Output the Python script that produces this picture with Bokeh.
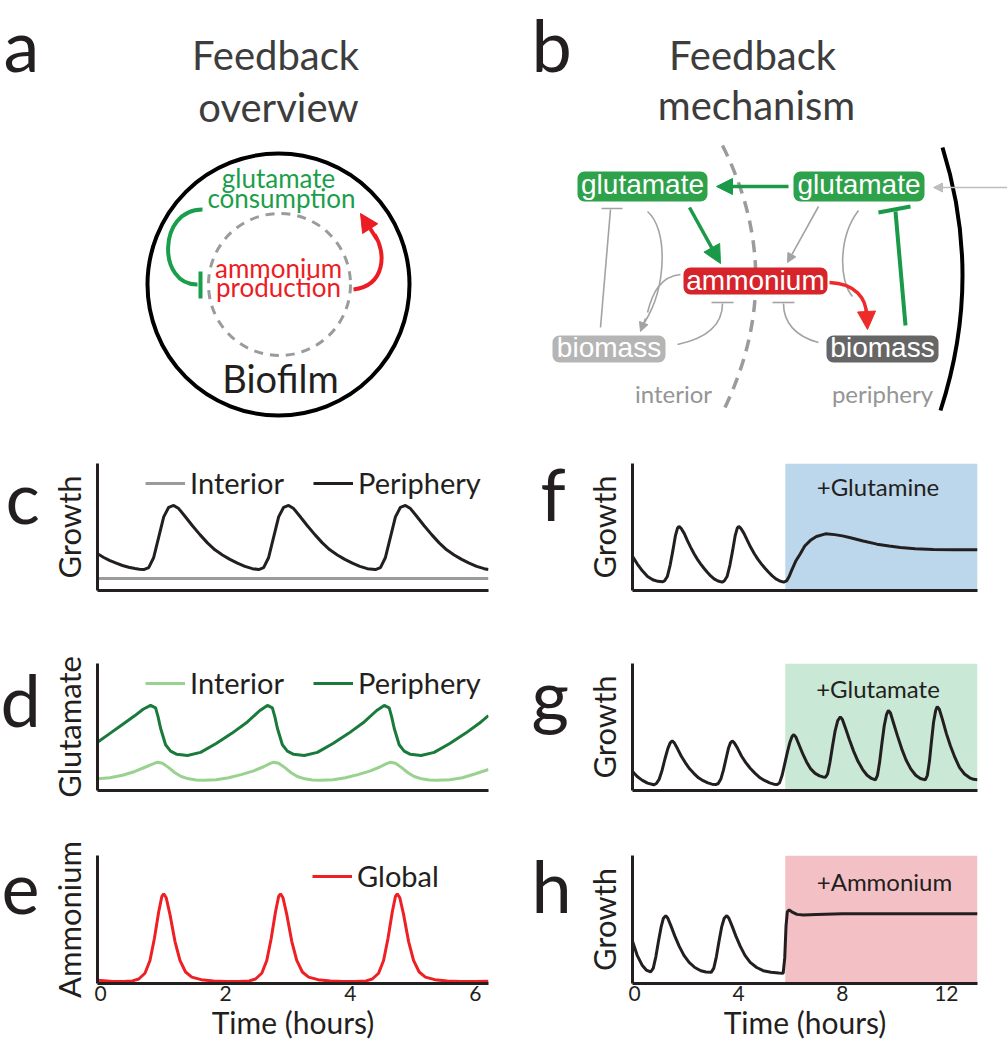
from bokeh.plotting import figure
from bokeh.layouts import column, row
from bokeh.models import Range1d, FixedTicker, Legend, LegendItem, Arrow, NormalHead
from bokeh.core.properties import value
from bokeh.embed import file_html
from bokeh.resources import INLINE

# ---------------------------------------------------------------- data
left_ticks = [0, 2, 4, 6]
right_ticks = [0, 4, 8, 12]

# panel c : growth
c_time = [-0.05, 0.05, 0.15, 0.25, 0.35, 0.45, 0.55, 0.62,
          0.69, 0.77, 0.85, 0.93, 1.01, 1.09, 1.17, 1.25, 1.35, 1.47, 1.59, 1.71, 1.83, 1.95, 2.07, 2.19, 2.31, 2.43,
          2.53, 2.61, 2.69, 2.77, 2.85, 2.93, 3.01, 3.09, 3.19, 3.31, 3.43, 3.55, 3.67, 3.79, 3.91, 4.03, 4.15, 4.27,
          4.40, 4.48, 4.56, 4.64, 4.72, 4.80, 4.88, 4.96, 5.06, 5.18, 5.30, 5.42, 5.54, 5.66, 5.78, 5.90, 6.02, 6.14,
          6.21]
c_periphery = [0.29, 0.26, 0.235, 0.215, 0.197, 0.183, 0.173, 0.168,
               0.165, 0.18, 0.26, 0.42, 0.58, 0.655, 0.67, 0.645, 0.585, 0.51, 0.44, 0.375, 0.32, 0.28, 0.245, 0.215, 0.19, 0.172,
               0.165, 0.18, 0.26, 0.42, 0.58, 0.655, 0.67, 0.645, 0.585, 0.51, 0.44, 0.375, 0.32, 0.28, 0.245, 0.215, 0.19, 0.172,
               0.165, 0.18, 0.26, 0.42, 0.58, 0.655, 0.67, 0.645, 0.585, 0.51, 0.44, 0.375, 0.32, 0.28, 0.245, 0.215, 0.19, 0.172,
               0.165]
c_interior_time = [-0.05, 6.21]
c_interior = [0.095, 0.095]

# panel d : glutamate
d_periphery_time = [-0.05, 0.15, 0.35, 0.55, 0.68, 0.80, 0.88, 0.92, 0.96, 1.04, 1.12, 1.22, 1.39, 1.60, 1.85,
                    2.10, 2.35, 2.55, 2.67, 2.75, 2.79, 2.83, 2.91, 2.99, 3.09, 3.26, 3.47, 3.72, 3.97, 4.22,
                    4.42, 4.54, 4.62, 4.66, 4.70, 4.78, 4.86, 4.96, 5.13, 5.34, 5.59, 5.84, 6.09, 6.21]
d_periphery = [0.38, 0.45, 0.52, 0.59, 0.64, 0.67, 0.65, 0.58, 0.49, 0.36, 0.31, 0.285, 0.276, 0.30, 0.37,
               0.45, 0.54, 0.63, 0.67, 0.65, 0.58, 0.49, 0.36, 0.31, 0.285, 0.276, 0.30, 0.37, 0.45, 0.54,
               0.63, 0.67, 0.65, 0.58, 0.49, 0.36, 0.31, 0.285, 0.276, 0.30, 0.37, 0.45, 0.54, 0.59]
d_interior_time = [-0.05, 0.15, 0.35, 0.55, 0.72, 0.84, 0.91, 0.99, 1.09, 1.19, 1.29, 1.41, 1.53, 1.65,
                   1.85, 2.05, 2.25, 2.45, 2.60, 2.70, 2.77, 2.85, 2.95, 3.05, 3.15, 3.27, 3.39, 3.52,
                   3.72, 3.92, 4.12, 4.32, 4.47, 4.57, 4.64, 4.72, 4.82, 4.92, 5.02, 5.14, 5.26, 5.39,
                   5.59, 5.79, 5.99, 6.21]
d_interior = [0.092, 0.10, 0.12, 0.15, 0.185, 0.21, 0.223, 0.215, 0.18, 0.14, 0.11, 0.092, 0.083, 0.080,
              0.085, 0.10, 0.125, 0.155, 0.185, 0.21, 0.223, 0.215, 0.18, 0.14, 0.11, 0.092, 0.083, 0.080,
              0.085, 0.10, 0.125, 0.155, 0.185, 0.21, 0.223, 0.215, 0.18, 0.14, 0.11, 0.092, 0.083, 0.080,
              0.085, 0.10, 0.13, 0.165]

# panel e : ammonium
e_time = [-0.05, 0.20, 0.40, 0.51, 0.61, 0.71, 0.79, 0.86, 0.93, 0.98, 1.01, 1.05, 1.11, 1.19, 1.27, 1.36, 1.46, 1.61, 1.81, 2.01,
          2.21, 2.38, 2.48, 2.58, 2.66, 2.73, 2.80, 2.85, 2.88, 2.92, 2.98, 3.06, 3.14, 3.23, 3.33, 3.48, 3.68, 3.88,
          4.08, 4.25, 4.35, 4.45, 4.53, 4.60, 4.67, 4.72, 4.75, 4.79, 4.85, 4.93, 5.01, 5.10, 5.20, 5.35, 5.55, 5.75,
          6.00, 6.21]
e_global = [0.025, 0.015, 0.017, 0.02, 0.035, 0.08, 0.18, 0.35, 0.56, 0.68, 0.70, 0.67, 0.54, 0.33, 0.18, 0.09, 0.05, 0.03, 0.02, 0.015,
            0.015, 0.02, 0.035, 0.08, 0.18, 0.35, 0.56, 0.68, 0.70, 0.67, 0.54, 0.33, 0.18, 0.09, 0.05, 0.03, 0.02, 0.015,
            0.015, 0.02, 0.035, 0.08, 0.18, 0.35, 0.56, 0.68, 0.70, 0.67, 0.54, 0.33, 0.18, 0.09, 0.05, 0.03, 0.02, 0.015,
            0.015, 0.017]

# panel f : growth, +glutamine
f_time = [-0.08, 0.10, 0.30, 0.50, 0.70, 0.90, 1.07,
          1.15, 1.26, 1.37, 1.47, 1.57, 1.65, 1.71, 1.79, 1.91, 2.03, 2.16, 2.29, 2.42, 2.54, 2.67, 2.80, 2.93, 3.06, 3.21, 3.37,
          3.45, 3.56, 3.67, 3.77, 3.87, 3.95, 4.01, 4.09, 4.21, 4.34, 4.47, 4.61, 4.75, 4.88, 5.02, 5.16, 5.30, 5.44, 5.59, 5.74,
          5.85, 5.95, 6.05, 6.20, 6.38, 6.55, 6.77, 7.00, 7.35, 7.70, 8.00, 8.31, 8.80, 9.33, 9.80, 10.23, 10.80, 11.50, 12.30, 13.20]
f_growth = [0.27, 0.21, 0.155, 0.11, 0.085, 0.072, 0.068,
            0.075, 0.11, 0.20, 0.31, 0.43, 0.49, 0.505, 0.49, 0.45, 0.394, 0.34, 0.289, 0.245, 0.21, 0.175, 0.144, 0.115, 0.092, 0.075, 0.066,
            0.075, 0.11, 0.20, 0.31, 0.43, 0.49, 0.505, 0.49, 0.45, 0.394, 0.34, 0.289, 0.245, 0.21, 0.175, 0.144, 0.115, 0.092, 0.075, 0.066,
            0.075, 0.11, 0.16, 0.23, 0.29, 0.35, 0.395, 0.425, 0.446, 0.44, 0.43, 0.415, 0.39, 0.365, 0.35, 0.338, 0.328, 0.322, 0.32, 0.32]

# panel g : growth, +glutamate
g_time = [-0.08, 0.10, 0.30, 0.50, 0.74,
          0.84, 0.95, 1.06, 1.17, 1.28, 1.37, 1.45, 1.53, 1.65, 1.80, 1.95, 2.10, 2.28, 2.46, 2.64, 2.82, 2.98, 3.12,
          3.22, 3.32, 3.42, 3.52, 3.61, 3.69, 3.76, 3.84, 3.97, 4.12, 4.28, 4.45, 4.64, 4.83, 5.02, 5.20, 5.36, 5.49,
          5.58, 5.68, 5.78, 5.88, 5.98, 6.06, 6.13, 6.21, 6.33, 6.47, 6.62, 6.78, 6.95, 7.12, 7.25, 7.35,
          7.43, 7.52, 7.62, 7.72, 7.82, 7.92, 8.00, 8.12, 8.27, 8.43, 8.60, 8.78, 8.95, 9.12, 9.27,
          9.35, 9.43, 9.52, 9.61, 9.70, 9.77, 9.85, 9.97, 10.12, 10.28, 10.45, 10.63, 10.82, 11.00, 11.19,
          11.27, 11.35, 11.43, 11.51, 11.59, 11.65, 11.73, 11.85, 12.00, 12.16, 12.33, 12.51, 12.70, 12.90, 13.05, 13.20]
g_growth = [0.15, 0.11, 0.08, 0.058, 0.045,
            0.055, 0.09, 0.16, 0.25, 0.33, 0.375, 0.39, 0.375, 0.33, 0.27, 0.22, 0.175, 0.135, 0.10, 0.077, 0.06, 0.05, 0.047,
            0.055, 0.09, 0.16, 0.25, 0.33, 0.375, 0.39, 0.375, 0.33, 0.27, 0.22, 0.175, 0.135, 0.10, 0.077, 0.06, 0.05, 0.047,
            0.06, 0.12, 0.21, 0.30, 0.38, 0.425, 0.44, 0.42, 0.36, 0.29, 0.225, 0.17, 0.135, 0.115, 0.107, 0.105,
            0.13, 0.22, 0.35, 0.47, 0.55, 0.58, 0.56, 0.49, 0.40, 0.31, 0.23, 0.165, 0.12, 0.095, 0.084,
            0.12, 0.22, 0.37, 0.51, 0.60, 0.63, 0.61, 0.53, 0.43, 0.33, 0.24, 0.17, 0.12, 0.095, 0.084,
            0.12, 0.23, 0.39, 0.54, 0.63, 0.66, 0.64, 0.56, 0.45, 0.35, 0.26, 0.18, 0.13, 0.10, 0.088, 0.085]

# panel h : growth, +ammonium
h_time = [-0.08, 0.10, 0.30, 0.45, 0.62,
          0.72, 0.82, 0.92, 1.02, 1.11, 1.20, 1.28, 1.40, 1.55, 1.72, 1.90, 2.10, 2.32, 2.55, 2.75, 2.95,
          3.05, 3.15, 3.25, 3.35, 3.45, 3.55, 3.63, 3.75, 3.90, 4.07, 4.25, 4.45, 4.70, 4.95, 5.25, 5.55, 5.72,
          5.78, 5.83, 5.88, 5.95, 6.05, 6.25, 6.50, 7.00, 8.00, 9.00, 10.00, 11.00, 12.00, 13.20]
h_growth = [0.33, 0.22, 0.14, 0.105, 0.09,
            0.12, 0.21, 0.33, 0.44, 0.51, 0.53, 0.51, 0.45, 0.37, 0.29, 0.22, 0.165, 0.125, 0.10, 0.09, 0.087,
            0.12, 0.21, 0.33, 0.44, 0.51, 0.53, 0.51, 0.45, 0.37, 0.29, 0.22, 0.165, 0.125, 0.10, 0.088, 0.082, 0.08,
            0.20, 0.45, 0.56, 0.575, 0.56, 0.54, 0.535, 0.54, 0.545, 0.545, 0.545, 0.545, 0.545, 0.545]

treatment_start = [5.8]
treatment_end = [13.2]
treatment_labels = ["+Glutamine", "+Glutamate", "+Ammonium"]

# ---------------------------------------------------------------- style
FONT = "Lato"
BOXFONT = "Liberation Sans"
BLACK = "#231f20"
TITLE = "#3d3d3d"
GREEN_TXT = "#1b9e4b"
RED_TXT = "#ec1c24"
GREEN_BOX = "#2ea14b"
RED_BOX = "#d7242b"
GRAY_LINE = "#a3a3a3"
GRAY_INT = "#9b9b9b"
GREEN_LIGHT = "#99d18f"
GREEN_DARK = "#1a7a3c"
RED_LINE = "#ee2024"
SHADES = ["#bcd7ec", "#c9e8d5", "#f3c1c5"]
SHIFT = 0.38      # baseline correction (fraction of font size) for text glyphs
LETTER = 72
TOP_H = 430


def add_text(fig, x, y, s, size, color, font=FONT, align="center", shift=SHIFT):
    # y is the wanted baseline in a top-down pixel frame
    fig.text(x=[x], y=[y - shift * size], text=[s], text_font=value(font), text_font_size=f"{size}px",
             text_color=color, text_align=align, text_baseline="alphabetic")


def add_arrow(fig, x0, y0, x1, y1, color, width, size):
    fig.add_layout(Arrow(end=NormalHead(size=size, fill_color=color, line_color=color, line_width=1),
                         x_start=x0, y_start=y0, x_end=x1, y_end=y1,
                         line_color=color, line_width=width))


def blank_fig(w, h):
    f = figure(width=w, height=h, x_range=Range1d(0, w), y_range=Range1d(h, 0),
               x_axis_type=None, y_axis_type=None, output_backend="svg",
               toolbar_location=None, min_border=0)
    f.outline_line_color = None
    return f


# ---------------------------------------------------------------- top diagrams (a, b)
top = blank_fig(1007, TOP_H)

add_text(top, 3, 71, "a", LETTER, BLACK, align="left")
add_text(top, 531, 71, "b", LETTER, BLACK, align="left")
add_text(top, 275, 70, "Feedback", 40, TITLE)
add_text(top, 278, 122, "overview", 40, TITLE)
add_text(top, 752, 70, "Feedback", 40, TITLE)
add_text(top, 756, 120, "mechanism", 40, TITLE)

# panel a
top.circle(x=[278], y=[284], radius=131, fill_color=None, line_color="black", line_width=4)
top.circle(x=[279], y=[284], radius=71, fill_color=None, line_color="#9b9b9b", line_width=3, line_dash="9 7")
add_text(top, 278, 187, "glutamate", 26, GREEN_TXT)
add_text(top, 281, 207, "consumption", 26, GREEN_TXT)
add_text(top, 278, 277, "ammonium", 26, RED_TXT)
add_text(top, 278, 296, "production", 26, RED_TXT)
add_text(top, 280, 392, "Biofilm", 38, BLACK)
top.bezier(x0=[202], y0=[209], x1=[197], y1=[284], cx0=[157], cy0=[209], cx1=[157], cy1=[285],
           line_color=GREEN_TXT, line_width=4)
top.segment(x0=[200], y0=[271], x1=[200], y1=[298], line_color=GREEN_TXT, line_width=4)
top.bezier(x0=[353], y0=[289], x1=[374], y1=[234], cx0=[385], cy0=[285], cx1=[386], cy1=[252],
           line_color=RED_TXT, line_width=4)
add_arrow(top, 376, 238, 360, 213, RED_TXT, 4, 18)

# panel b
top.quadratic(x0=[722], y0=[145], x1=[723], y1=[410], cx=[788], cy=[277],
              line_color="#9b9b9b", line_width=3.5, line_dash="12 8")
top.quadratic(x0=[942], y0=[147], x1=[940], y1=[410], cx=[983], cy=[278],
              line_color="black", line_width=4)
top.segment(x0=[600, 601, 711, 772], y0=[327, 208, 302, 302], x1=[610, 622, 733, 794], y1=[209, 208, 302, 302],
            line_color=GRAY_LINE, line_width=1.6)
top.bezier(x0=[647, 680, 677, 818, 858], y0=[211, 274, 344, 342, 210],
           x1=[644, 647, 722, 783, 852], y1=[322, 312, 303, 303, 296],
           cx0=[667, 660, 705, 795, 838], cy0=[228, 276, 338, 336, 236],
           cx1=[667, 652, 722, 783, 838], cy1=[285, 292, 325, 322, 280],
           line_color=GRAY_LINE, line_width=1.6)
add_arrow(top, 645, 318, 640, 331, GRAY_LINE, 1.6, 9)
add_arrow(top, 818, 206, 787, 262, GRAY_LINE, 1.6, 9)
add_arrow(top, 1007, 187, 933, 187, "#bdbdbd", 1.5, 9)
top.quad(left=[577, 793, 683, 552, 826], right=[707, 924, 827, 665, 938],
         top=[171, 171, 267, 335, 335], bottom=[201, 201, 294, 362, 362],
         fill_color=[GREEN_BOX, GREEN_BOX, RED_BOX, "#b5b5b5", "#666666"], line_color=None, border_radius=7)
for bx, by, btxt in [(642, 194, "glutamate"), (858.5, 194, "glutamate"), (755, 290, "ammonium"),
                     (608.5, 357, "biomass"), (882, 357, "biomass")]:
    add_text(top, bx, by, btxt, 28, "white", font=BOXFONT, shift=0.35)
add_arrow(top, 788, 186, 716, 186, "#1a9a48", 3.5, 16)
add_arrow(top, 689, 207, 720, 263, "#1a9a48", 3.5, 18)
top.bezier(x0=[829], y0=[282], x1=[866], y1=[315], cx0=[855], cy0=[283], cx1=[866], cy1=[298],
           line_color="#ee2b2b", line_width=3.5)
add_arrow(top, 866, 310, 867, 329, "#ee2b2b", 3.5, 18)
top.segment(x0=[905, 878], y0=[325, 212], x1=[895, 910], y1=[211, 206], line_color="#1a9a48", line_width=4)
add_text(top, 673, 402, "interior", 24, "#959595")
add_text(top, 882, 402, "periphery", 24, "#959595")


# ---------------------------------------------------------------- time-series panels
def ts_panel(frame_w, frame_h, xr, br, bt, bb, ylabel, ticks=None):
    p = figure(frame_width=frame_w, frame_height=frame_h, x_range=Range1d(*xr), y_range=Range1d(0, 1),
               min_border_left=52, min_border_right=br, min_border_top=bt, min_border_bottom=bb,
               output_backend="svg", toolbar_location=None)
    p.grid.visible = False
    p.outline_line_color = None
    for ax in (p.xaxis[0], p.yaxis[0]):
        ax.axis_line_width = 3
        ax.axis_line_color = BLACK
        ax.major_tick_line_color = None
        ax.minor_tick_line_color = None
        ax.major_tick_out = 0
        ax.major_tick_in = 0
    p.yaxis.ticker = FixedTicker(ticks=[])
    p.yaxis.axis_label = ylabel
    p.yaxis.axis_label_text_font = FONT
    p.yaxis.axis_label_text_font_size = "31px"
    p.yaxis.axis_label_text_font_style = "normal"
    p.yaxis.axis_label_text_color = BLACK
    p.yaxis.axis_label_standoff = 10
    if ticks is None:
        p.xaxis.ticker = FixedTicker(ticks=[])
    else:
        p.xaxis.ticker = FixedTicker(ticks=ticks)
        p.xaxis.major_label_text_font = FONT
        p.xaxis.major_label_text_font_size = "21px"
        p.xaxis.major_label_text_color = BLACK
        p.xaxis.major_label_standoff = 2
        p.xaxis.axis_label = "Time (hours)"
        p.xaxis.axis_label_text_font = FONT
        p.xaxis.axis_label_text_font_size = "30px"
        p.xaxis.axis_label_text_font_style = "normal"
        p.xaxis.axis_label_text_color = BLACK
        p.xaxis.axis_label_standoff = 0
    return p


def letter_column(w, h, entries):
    f = blank_fig(w, h)
    for x, baseline, letter in entries:
        add_text(f, x, baseline, letter, LETTER, BLACK, align="left")
    return f


def add_legend(p, items, loc):
    leg = Legend(items=[LegendItem(label=lab, renderers=[r]) for lab, r in items],
                 orientation="horizontal", location=loc, glyph_width=40, glyph_height=20,
                 label_standoff=5, spacing=29, padding=0, margin=0, border_line_color=None,
                 background_fill_alpha=0, label_text_font=FONT, label_text_font_size="29px",
                 label_text_color=BLACK)
    p.add_layout(leg)


LXR = (-0.05, 6.21)
RXR = (-0.08, 13.2)
FRAME_H = [127, 127, 128]
BORDER_T = [33, 18, 19]
BORDER_B = [55, 46, 64]
BLOCK_H = sum(FRAME_H) + sum(BORDER_T) + sum(BORDER_B)

pc = ts_panel(391, FRAME_H[0], LXR, 42, BORDER_T[0], BORDER_B[0], "Growth")
r_ci = pc.line(c_interior_time, c_interior, line_color=GRAY_INT, line_width=3)
r_cp = pc.line(c_time, c_periphery, line_color=BLACK, line_width=3)
add_legend(pc, [("Interior", r_ci), ("Periphery", r_cp)], (48, 90))

pd_ = ts_panel(391, FRAME_H[1], LXR, 42, BORDER_T[1], BORDER_B[1], "Glutamate")
r_di = pd_.line(d_interior_time, d_interior, line_color=GREEN_LIGHT, line_width=3)
r_dp = pd_.line(d_periphery_time, d_periphery, line_color=GREEN_DARK, line_width=3)
add_legend(pd_, [("Interior", r_di), ("Periphery", r_dp)], (48, 90))

pe = ts_panel(391, FRAME_H[2], LXR, 42, BORDER_T[2], BORDER_B[2], "Ammonium", ticks=left_ticks)
r_e = pe.line(e_time, e_global, line_color=RED_LINE, line_width=3)
add_legend(pe, [("Global", r_e)], (215, 90))

left_block = row(letter_column(45, BLOCK_H, [(5, 93, "c"), (0, 296, "d"), (1, 485, "e")]),
                 column(pc, pd_, pe))

right_series = [(f_time, f_growth), (g_time, g_growth), (h_time, h_growth)]
label_pos = [(9.37, 0.82), (9.37, 0.804), (9.62, 0.80)]
right_panels = []
for i, ((tt, yy), shade, label) in enumerate(zip(right_series, SHADES, treatment_labels)):
    p = ts_panel(345, FRAME_H[i], RXR, 30, BORDER_T[i], BORDER_B[i], "Growth",
                 ticks=right_ticks if i == 2 else None)
    p.quad(left=treatment_start, right=treatment_end, bottom=[0], top=[1], fill_color=shade, line_color=None)
    p.line(tt, yy, line_color=BLACK, line_width=3)
    lx, ly = label_pos[i]
    p.text(x=[lx], y=[ly], text=[label], text_font=value(FONT), text_font_size="24px",
           text_color=BLACK, text_align="center", text_baseline="alphabetic")
    right_panels.append(p)

right_block = row(letter_column(50, BLOCK_H, [(10, 90, "f"), (1, 291, "g"), (1, 482, "h")]),
                  column(*right_panels))

layout = column(top, row(left_block, right_block))
open("out.html", "w").write(file_html(layout, INLINE))
